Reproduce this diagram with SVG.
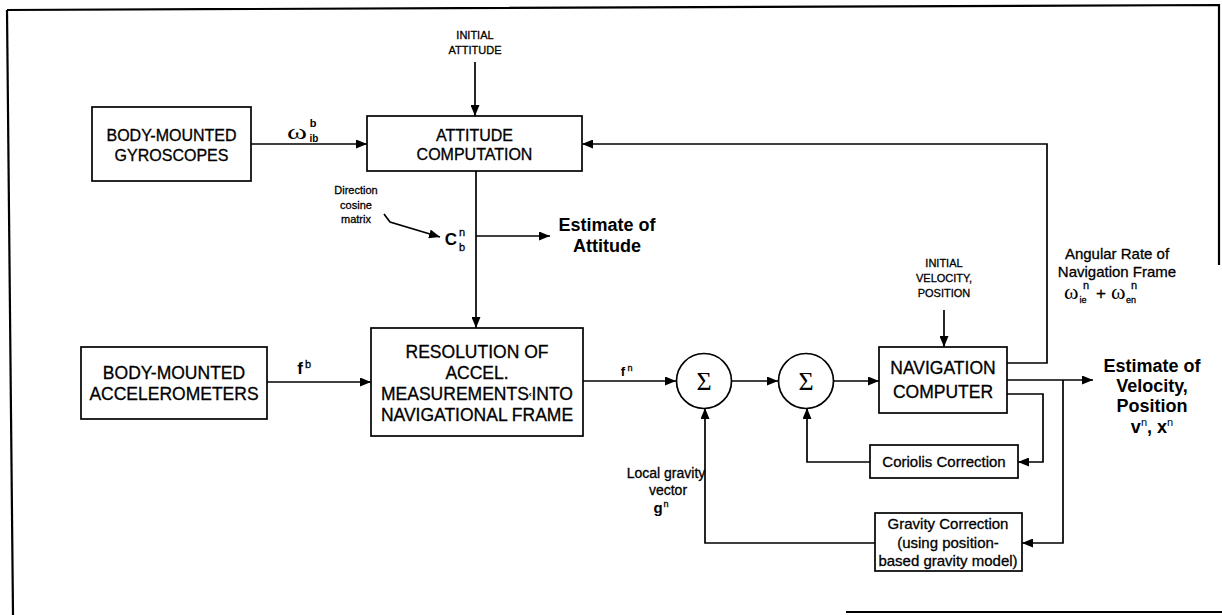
<svg xmlns="http://www.w3.org/2000/svg" width="1222" height="615" viewBox="0 0 1222 615">
  <style>
    .box { fill: #fff; stroke: #000; stroke-width: 1.7; }
    .sum { fill: #fff; stroke: #000; stroke-width: 1.7; }
    .wire { fill: none; stroke: #000; stroke-width: 1.7; }
    .frame { fill: none; stroke: #000; stroke-width: 2.2; }
    .t { font-family: "Liberation Sans", Arial, sans-serif; fill: #000; stroke: #000; stroke-width: 0.3; text-anchor: middle; }
    .cap { font-size: 16px; }
    .cap2 { font-size: 17.5px; }
    .small { font-size: 11px; }
    .lc { font-size: 15px; }
    .big { font-size: 18px; font-weight: bold; stroke: none; }
    .sym { font-family: "Liberation Serif", "Times New Roman", serif; fill: #000; }
    .b { font-weight: bold; stroke: none; }
  </style>
  <defs>
    <marker id="arrow" viewBox="0 0 11 9" refX="11" refY="4.5" markerWidth="11" markerHeight="9" markerUnits="userSpaceOnUse" orient="auto">
      <path d="M0,0 L11,4.5 L0,9 Z" fill="#000"/>
    </marker>
  </defs>

  <!-- page frame -->
  <g id="frame">
    <path class="frame" d="M7,10 L1219,5 L1219,265"/>
    <path class="frame" d="M7,10 L13,615"/>
    <path class="frame" d="M846,612 L1222,612"/>
  </g>

  <!-- connectors -->
  <g id="connectors">
    <path class="wire" d="M475,62 V116" marker-end="url(#arrow)"/>
    <path class="wire" d="M251,144 H367" marker-end="url(#arrow)"/>
    <path class="wire" d="M476,171 V328" marker-end="url(#arrow)"/>
    <path class="wire" d="M476,236 H550" marker-end="url(#arrow)"/>
    <path class="wire" d="M384,214 L390,222 L440,237" marker-end="url(#arrow)"/>
    <path class="wire" d="M267,382 H371" marker-end="url(#arrow)"/>
    <path class="wire" d="M583,381 H676" marker-end="url(#arrow)"/>
    <path class="wire" d="M732,381 H778" marker-end="url(#arrow)"/>
    <path class="wire" d="M834,381 H879" marker-end="url(#arrow)"/>
    <path class="wire" d="M944,310 V347" marker-end="url(#arrow)"/>
    <path class="wire" d="M1007,363 H1047 V144 H582" marker-end="url(#arrow)"/>
    <path class="wire" d="M1007,380 H1093" marker-end="url(#arrow)"/>
    <path class="wire" d="M1063,380 V543 H1022" marker-end="url(#arrow)"/>
    <path class="wire" d="M1007,394 H1043 V462 H1018" marker-end="url(#arrow)"/>
    <path class="wire" d="M870,462 H807 V408" marker-end="url(#arrow)"/>
    <path class="wire" d="M875,543 H705 V408" marker-end="url(#arrow)"/>
  </g>

  <!-- free labels -->
  <g id="labels">
    <text class="t small" x="475" y="39">INITIAL</text>
    <text class="t small" x="475" y="54">ATTITUDE</text>

    <text class="sym" x="287" y="139" font-size="22" textLength="20" lengthAdjust="spacingAndGlyphs">ω</text>
    <text class="t b" x="313" y="127" font-size="11">b</text>
    <text class="t b" x="314" y="142" font-size="10">ib</text>

    <text class="t small" x="356" y="194">Direction</text>
    <text class="t small" x="356" y="209">cosine</text>
    <text class="t small" x="356" y="223">matrix</text>

    <text class="t b" x="451" y="245" font-size="17">C</text>
    <text class="t" x="462" y="236" font-size="11">n</text>
    <text class="t" x="462" y="251" font-size="11">b</text>

    <text class="t big" x="607" y="231">Estimate of</text>
    <text class="t big" x="607" y="252">Attitude</text>

    <text class="t b" x="300" y="374" font-size="17">f</text>
    <text class="t" x="308" y="368" font-size="11">b</text>

    <text class="t b" x="623" y="376" font-size="13">f</text>
    <text class="t" x="630" y="371" font-size="9">n</text>

    <text class="t small" x="944" y="267">INITIAL</text>
    <text class="t small" x="944" y="282">VELOCITY,</text>
    <text class="t small" x="944" y="297">POSITION</text>

    <text class="t lc" x="1117" y="259">Angular Rate of</text>
    <text class="t lc" x="1117" y="277">Navigation Frame</text>

    <text class="sym" x="1064" y="299" font-size="22">ω</text>
    <text class="t" x="1083" y="303" font-size="9">ie</text>
    <text class="t" x="1086" y="289" font-size="11">n</text>
    <text class="t" x="1101" y="299" font-size="17">+</text>
    <text class="sym" x="1111" y="299" font-size="22">ω</text>
    <text class="t" x="1131" y="303" font-size="9">en</text>
    <text class="t" x="1134" y="289" font-size="11">n</text>

    <text class="t big" x="1152" y="372">Estimate of</text>
    <text class="t big" x="1152" y="392">Velocity,</text>
    <text class="t big" x="1152" y="412">Position</text>
    <text class="t b" x="1152" y="433" font-size="18"><tspan>v</tspan><tspan font-size="11" font-weight="normal" dy="-7">n</tspan><tspan dy="7">, x</tspan><tspan font-size="11" font-weight="normal" dy="-7">n</tspan></text>

    <text class="t" x="666" y="478" font-size="14">Local gravity</text>
    <text class="t" x="668" y="495" font-size="14">vector</text>
    <text class="t b" x="658" y="513" font-size="15">g</text>
    <text class="t" x="666" y="507" font-size="9">n</text>
  </g>

  <!-- nodes -->
  <g id="gyroscopes">
    <rect class="box" x="92" y="107" width="159" height="74"/>
    <text class="t cap" x="171.5" y="141">BODY-MOUNTED</text>
    <text class="t cap" x="171.5" y="161">GYROSCOPES</text>
  </g>

  <g id="attitude-computation">
    <rect class="box" x="367" y="116" width="215" height="55"/>
    <text class="t cap" x="474.5" y="141">ATTITUDE</text>
    <text class="t cap" x="474.5" y="160">COMPUTATION</text>
  </g>

  <g id="accelerometers">
    <rect class="box" x="81" y="347" width="186" height="72"/>
    <text class="t cap2" x="174" y="379">BODY-MOUNTED</text>
    <text class="t cap2" x="174" y="400">ACCELEROMETERS</text>
  </g>

  <g id="resolution">
    <rect class="box" x="371" y="328" width="212" height="108"/>
    <text class="t cap2" x="477" y="358">RESOLUTION OF</text>
    <text class="t cap2" x="477" y="379">ACCEL.</text>
    <text class="t cap2" x="477" y="400">MEASUREMENTS<tspan font-size="8" dy="-3">‹</tspan><tspan dy="3">INTO</tspan></text>
    <text class="t cap2" x="477" y="421">NAVIGATIONAL FRAME</text>
  </g>

  <g id="sum-1">
    <circle class="sum" cx="704" cy="381" r="27.5"/>
    <text class="sym" x="704" y="390" font-size="26" text-anchor="middle">Σ</text>
  </g>

  <g id="sum-2">
    <circle class="sum" cx="806" cy="381" r="27.5"/>
    <text class="sym" x="806" y="390" font-size="26" text-anchor="middle">Σ</text>
  </g>

  <g id="navigation-computer">
    <rect class="box" x="879" y="347" width="128" height="66"/>
    <text class="t cap2" x="943" y="374">NAVIGATION</text>
    <text class="t cap2" x="943" y="398">COMPUTER</text>
  </g>

  <g id="coriolis-correction">
    <rect class="box" x="870" y="445" width="148" height="33"/>
    <text class="t lc" x="944" y="467">Coriolis Correction</text>
  </g>

  <g id="gravity-correction">
    <rect class="box" x="875" y="513" width="147" height="58"/>
    <text class="t lc" x="948" y="529">Gravity Correction</text>
    <text class="t lc" x="948" y="548">(using position-</text>
    <text class="t lc" x="948" y="566">based gravity model)</text>
  </g>
</svg>
